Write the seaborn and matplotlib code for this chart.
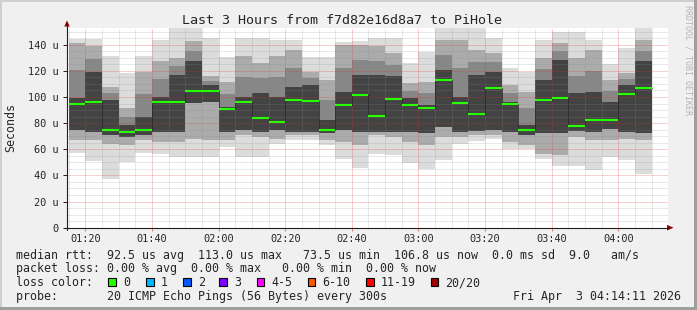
import numpy as np
import pandas as pd
import matplotlib
matplotlib.use("Agg")
import matplotlib.pyplot as plt
import matplotlib.dates as mdates
from matplotlib.lines import Line2D
from matplotlib.patches import Polygon, Rectangle
import seaborn as sns

# ---------------- data (values in microseconds) ----------------
bar_end = pd.date_range("2026-04-03 01:20", "2026-04-03 04:10", freq="5min")

median_us = [94.9, 96.2, 74.6, 73.5, 74.9, 96.2, 96.2, 104.6, 104.6, 90.8,
             96.2, 84.1, 81.0, 98.0, 97.2, 74.9, 93.9, 101.6, 85.7, 98.5,
             93.9, 91.8, 113.0, 95.4, 86.9, 107.0, 94.6, 74.6, 97.7, 99.5,
             78.0, 82.3, 82.3, 102.3, 106.8]
smoke_max = [144.6, 144.6, 131.6, 118.2, 131.0, 143.9, 153.4, 153.4, 145.2, 130.5,
             145.2, 145.2, 143.9, 143.9, 130.5, 130.5, 142.1, 143.1, 145.2, 145.2,
             125.9, 134.4, 153.4, 153.4, 153.4, 145.2, 122.1, 119.5, 143.9, 149.8,
             149.8, 143.9, 125.1, 137.5, 152.8]
smoke_hi2 = [141.3, 138.7, 108.0, 91.3, 119.5, 127.2, 129.8, 142.6, 115.7, 111.8,
             131.0, 125.9, 131.0, 136.2, 119.5, 113.1, 140.0, 140.0, 138.7, 133.6,
             110.5, 111.8, 143.9, 143.9, 136.2, 133.6, 109.2, 104.1, 129.8, 141.3,
             129.8, 136.2, 113.1, 118.2, 143.9]
smoke_hi1 = [99.5, 119.5, 97.7, 78.5, 84.9, 100.3, 116.9, 127.2, 109.2, 92.6,
             100.3, 102.8, 100.3, 108.0, 109.2, 82.3, 104.1, 116.9, 116.9, 115.7,
             99.0, 93.9, 120.8, 100.3, 116.9, 119.5, 96.4, 78.5, 113.1, 128.5,
             102.8, 104.1, 96.4, 109.2, 127.2]
smoke_lo1 = [74.6, 73.3, 70.8, 69.5, 70.8, 73.3, 73.3, 95.1, 96.4, 73.3,
             74.6, 73.3, 74.6, 73.3, 73.3, 72.1, 74.6, 73.3, 73.3, 73.3,
             73.3, 72.1, 77.2, 73.3, 73.9, 74.6, 73.3, 70.8, 72.1, 72.1,
             73.9, 73.3, 75.9, 73.3, 72.1]
smoke_lo2 = [66.9, 66.9, 64.4, 63.1, 66.9, 65.7, 65.7, 68.2, 66.9, 66.9,
             70.8, 69.5, 68.2, 70.8, 70.8, 66.9, 65.7, 63.1, 70.8, 69.5,
             65.7, 63.1, 69.5, 69.5, 70.8, 70.8, 65.7, 63.1, 56.7, 55.4,
             69.5, 66.9, 66.9, 68.2, 66.9]
smoke_min = [57.2, 50.8, 37.4, 50.3, 57.2, 56.7, 54.1, 54.1, 54.1, 61.8,
             54.1, 54.1, 64.4, 66.9, 66.9, 63.1, 52.8, 45.7, 56.7, 55.9,
             49.8, 44.6, 51.6, 64.4, 66.2, 68.2, 60.0, 60.5, 52.8, 47.2,
             47.2, 43.9, 54.1, 51.6, 41.3]

y_ticks = [0, 20, 40, 60, 80, 100, 120, 140]
y_tick_labels = ["0", "20 u", "40 u", "60 u", "80 u", "100 u", "120 u", "140 u"]
x_tick_labels = ["01:20", "01:40", "02:00", "02:20", "02:40", "03:00", "03:20", "03:40", "04:00"]

loss_labels = ["0", "1", "2", "3", "4-5", "6-10", "11-19", "20/20"]
loss_colors = ["#26ff00", "#00b8ff", "#0059ff", "#7e00ff", "#ff00ff", "#ff5500", "#ff0000", "#a10000"]

title = "Last 3 Hours from f7d82e16d8a7 to PiHole"
line_rtt = "median rtt:  92.5 us avg  113.0 us max   73.5 us min  106.8 us now  0.0 ms sd  9.0   am/s"
line_loss = "packet loss: 0.00 % avg  0.00 % max   0.00 % min  0.00 % now"
line_probe = "probe:       20 ICMP Echo Pings (56 Bytes) every 300s"
stamp = "Fri Apr  3 04:14:11 2026"

# ---------------- style ----------------
sns.set_theme(style="white")
plt.rcParams["font.family"] = ["DejaVu Sans Mono", "DejaVu Sans"]

W, H = 697, 310
fig = plt.figure(figsize=(W / 100, H / 100), dpi=100, facecolor="#f0f0f0")

def fx(x):
    return x / W

def fy(y):
    return 1 - y / H

AX_L, AX_R, AX_T, AX_B = 67, 668, 28, 227.7
ax = fig.add_axes([fx(AX_L), fy(AX_B), (AX_R - AX_L) / W, (AX_B - AX_T) / H])
ax.set_facecolor("white")
for s in ax.spines.values():
    s.set_visible(False)

step = pd.Timedelta(minutes=5)
edges = list(bar_end - step) + [bar_end[-1]]
xe = mdates.date2num([e.to_pydatetime() for e in edges])

def ext(a):
    return np.array(list(a) + [a[-1]])

# smoke layers: light outer, graded middle, dark core
ax.fill_between(xe, ext(smoke_min), ext(smoke_max), step="post", color="#dcdcdc", lw=0, zorder=1)
ax.fill_between(xe, ext(smoke_lo2), ext(smoke_hi2), step="post", color="#ababab", lw=0, zorder=1.1)
ax.fill_between(xe, ext(smoke_lo1), (ext(smoke_hi1) + ext(smoke_hi2)) / 2, step="post",
                color="#878787", lw=0, zorder=1.15)
ax.fill_between(xe, ext(smoke_lo1), ext(smoke_hi1), step="post", color="#434343", lw=0, zorder=1.2)

# median step connector and coloured median segments
sns.lineplot(x=xe, y=ext(median_us), drawstyle="steps-post", color="#202020",
             lw=0.7, alpha=0.7, ax=ax, zorder=3, legend=False)
ax.hlines(median_us, xe[:-1], xe[1:], colors=loss_colors[0], lw=1.5, zorder=4)

# limits
x0 = mdates.date2num(pd.Timestamp("2026-04-03 01:14:30").to_pydatetime())
x1 = mdates.date2num(pd.Timestamp("2026-04-03 04:14:55").to_pydatetime())
ax.set_xlim(x0, x1)
ax.set_ylim(0, 152.8)

# ticks / grid
xt = mdates.date2num([pd.Timestamp("2026-04-03 " + t).to_pydatetime() for t in x_tick_labels])
ax.set_xticks(xt, labels=x_tick_labels)
minor_x = mdates.date2num(pd.date_range("2026-04-03 01:15", "2026-04-03 04:10", freq="5min").to_pydatetime())
ax.set_xticks(minor_x, minor=True)
ax.set_yticks(y_ticks, labels=y_tick_labels)
ax.set_yticks(np.arange(5, 155, 5), minor=True)

ax.tick_params(axis="x", which="major", length=2, width=0.7, color="#e08080",
               pad=2.6, labelsize=7.4, bottom=True)
ax.tick_params(axis="y", which="major", length=2.9, width=0.7, color="#1f1f1f",
               pad=2.9, labelsize=7.4, left=True)
ax.tick_params(which="minor", length=0)

ax.set_axisbelow(False)
ax.grid(True, which="minor", color="#8c8c8c", alpha=0.4, lw=0.72, linestyle=(0, (1, 1)))
ax.grid(True, which="major", color="#e03030", alpha=0.45, lw=0.72, linestyle=(0, (1, 1)))

# axis lines and arrows
fig.add_artist(Line2D([fx(67), fx(67)], [fy(230), fy(24)], color="#1f1f1f", lw=0.8))
fig.add_artist(Line2D([fx(64), fx(669)], [fy(AX_B), fy(AX_B)], color="#1f1f1f", lw=0.8))
fig.add_artist(Polygon([[fx(64.3), fy(26.5)], [fx(69.7), fy(26.5)], [fx(67), fy(20.5)]],
                       closed=True, color="#8b0000", lw=0))
fig.add_artist(Polygon([[fx(667), fy(224.9)], [fx(667), fy(230.5)], [fx(673.5), fy(AX_B)]],
                       closed=True, color="#8b0000", lw=0))

# frame shading
fig.add_artist(Rectangle((0, fy(2)), 1, 2 / H, color="#cfcfcf", lw=0))
fig.add_artist(Rectangle((0, 0), 2 / W, 1, color="#cfcfcf", lw=0))
fig.add_artist(Rectangle((0, 0), 1, 3 / H, color="#9e9e9e", lw=0))
fig.add_artist(Rectangle((fx(694), 0), 3 / W, 1, color="#9e9e9e", lw=0))

# texts
fig.text(fx(342), fy(24), title, ha="center", va="baseline", fontsize=9.6)
fig.text(fx(11), fy(127), "Seconds", rotation=90, ha="center", va="center", fontsize=8.4)
fig.text(fx(688), fy(60), "RRDTOOL / TOBI OETIKER", rotation=270, ha="center", va="center",
         fontsize=6.0, color="#b4b4b4")

FS = 8.4
fig.text(fx(16), fy(258.5), line_rtt, ha="left", va="baseline", fontsize=FS)
fig.text(fx(16), fy(272.3), line_loss, ha="left", va="baseline", fontsize=FS)
fig.text(fx(16), fy(286.1), "loss color:", ha="left", va="baseline", fontsize=FS)
box_x = [108, 146, 183, 219, 256.5, 307.5, 366, 430.5]
for bx, lab, col in zip(box_x, loss_labels, loss_colors):
    fig.add_artist(Rectangle((fx(bx), fy(285.5)), 7.5 / W, 7.5 / H, facecolor=col,
                             edgecolor="black", lw=0.8))
    fig.text(fx(bx + 15), fy(286.1), lab, ha="left", va="baseline", fontsize=FS)
fig.text(fx(16), fy(299.9), line_probe, ha="left", va="baseline", fontsize=FS)
fig.text(fx(681), fy(299.9), stamp, ha="right", va="baseline", fontsize=FS)

fig.savefig("out.png", dpi=100, facecolor=fig.get_facecolor())
